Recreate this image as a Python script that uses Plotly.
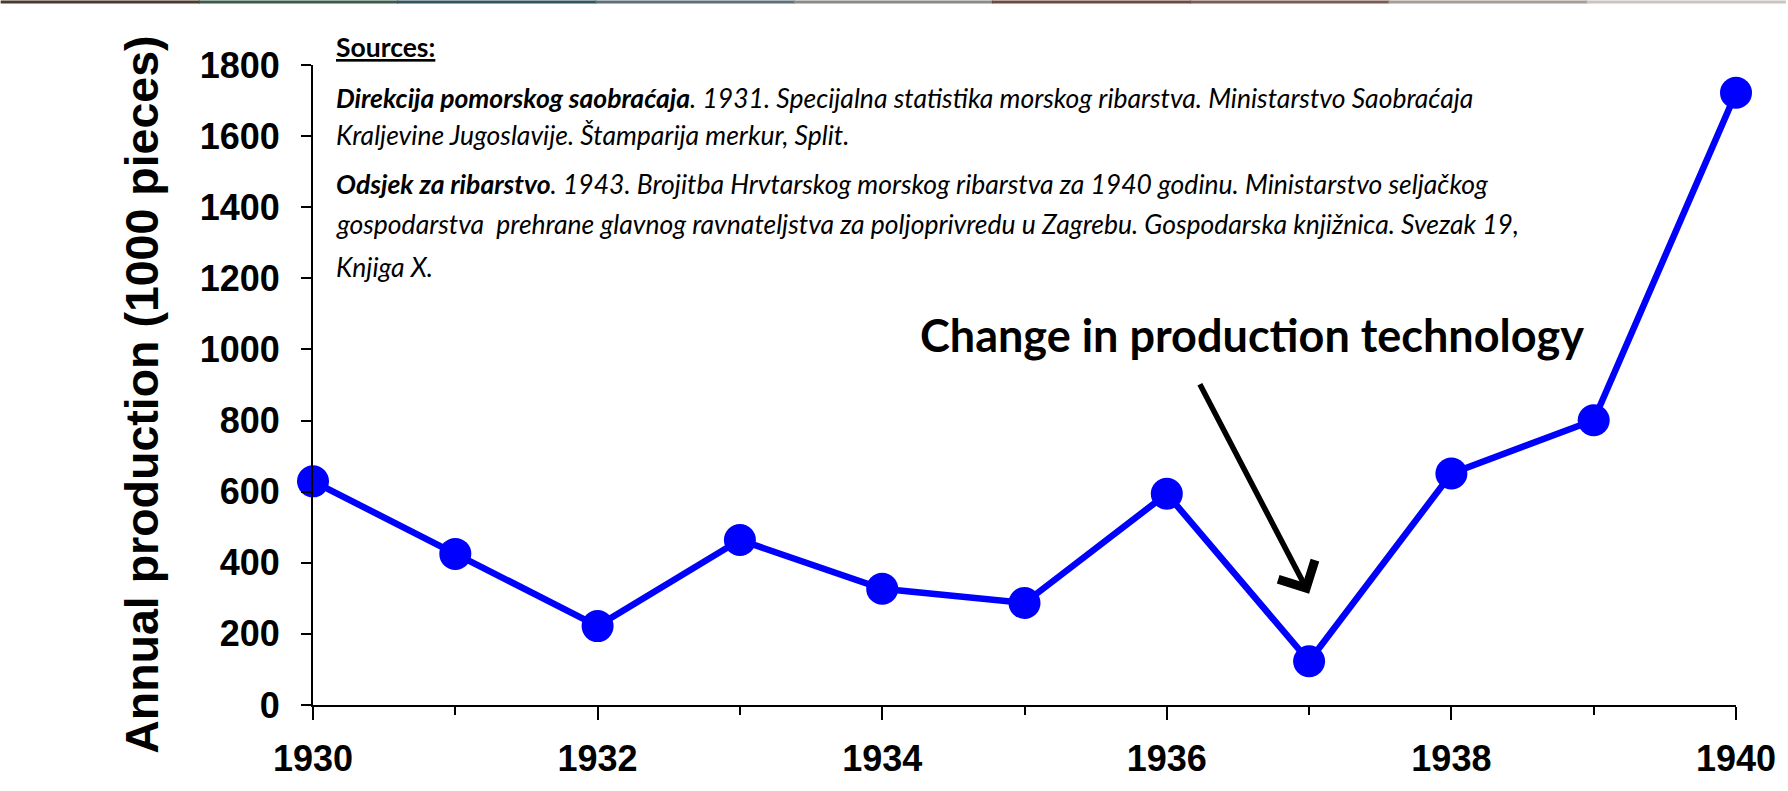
import plotly.graph_objects as go

# ---- data ----
years = [1930, 1931, 1932, 1933, 1934, 1935, 1936, 1937, 1938, 1939, 1940]
production = [629, 425, 222, 464, 327, 287, 594, 123, 651, 801, 1722]
x_tickvals = [1930, 1932, 1934, 1936, 1938, 1940]
x_ticktext = ["1930", "1932", "1934", "1936", "1938", "1940"]
y_tickvals = [0, 200, 400, 600, 800, 1000, 1200, 1400, 1600, 1800]
y_title = "Annual production (1000 pieces)"
annotation_text = "Change in production technology"
sources_lines = [
    "<b><u>Sources:</u></b>",
    "<b><i>Direkcija pomorskog saobraćaja</i></b><i>. 1931. Specijalna statistika morskog ribarstva. Ministarstvo Saobraćaja</i>",
    "<i>Kraljevine Jugoslavije. Štamparija merkur, Split.</i>",
    "<b><i>Odsjek za ribarstvo</i></b><i>. 1943. Brojitba Hrvtarskog morskog ribarstva za 1940 godinu. Ministarstvo seljačkog</i>",
    "<i>gospodarstva  prehrane glavnog ravnateljstva za poljoprivredu u Zagrebu. Gospodarska knjižnica. Svezak 19,</i>",
    "<i>Knjiga X.</i>",
]

W, H = 1788, 791
L, R, T, B = 313, 1739, 65, 710  # plot area in pixels


def px_x(px):
    return (px - L) / (R - L)


def px_y(py):
    return (B - py) / (B - T)


fig = go.Figure()
fig.add_trace(go.Scatter(
    x=years, y=production, mode="lines+markers",
    line=dict(color="#0000FF", width=6.5),
    marker=dict(color="#0000FF", size=32),
    cliponaxis=False, showlegend=False,
))

axis_font = dict(family="Liberation Sans, Arial, sans-serif", size=36, color="black", weight="bold")

fig.update_layout(
    width=W, height=H, autosize=False,
    margin=dict(l=L, r=W - R, t=T, b=H - B, pad=0),
    plot_bgcolor="white", paper_bgcolor="white",
    xaxis=dict(
        range=[1930, 1940], tickvals=x_tickvals, ticktext=x_ticktext,
        ticks="outside", ticklen=13, tickwidth=2, tickcolor="black",
        showline=True, linecolor="black", linewidth=2,
        showgrid=False, zeroline=False,
        tickfont=axis_font, ticklabelstandoff=8,
        minor=dict(dtick=1, tick0=1930, ticks="outside", ticklen=8, tickwidth=2,
                   tickcolor="black", showgrid=False),
    ),
    yaxis=dict(
        range=[0, 1800], tickvals=y_tickvals,
        ticks="outside", ticklen=10, tickwidth=2, tickcolor="black",
        showline=True, linecolor="black", linewidth=2,
        showgrid=False, zeroline=False,
        tickfont=axis_font, ticklabelstandoff=14,
    ),
)

# y-axis title as rotated text
fig.add_annotation(
    text="<b>" + y_title + "</b>", textangle=-90,
    xref="paper", yref="paper", x=px_x(142), y=px_y(397),
    xanchor="center", yanchor="middle", showarrow=False,
    font=dict(family="Liberation Sans, Arial, sans-serif", size=46.5, color="black"),
)

# sources block
src_y = [47, 98, 136, 185, 225, 269]
for txt, yy in zip(sources_lines, src_y):
    fig.add_annotation(
        text=txt, xref="paper", yref="paper", x=px_x(334), y=px_y(yy),
        xanchor="left", yanchor="middle", showarrow=False, align="left",
        font=dict(family="Lato, Open Sans, sans-serif", size=26.5, color="black"),
    )

# annotation text
fig.add_annotation(
    text="<b>" + annotation_text + "</b>", xref="paper", yref="paper",
    x=px_x(1254), y=px_y(337), xanchor="center", yanchor="middle", showarrow=False,
    font=dict(family="Lato, Open Sans, sans-serif", size=45, color="black"),
)

# arrow pointing to 1937
fig.add_annotation(
    x=1937, y=313, xref="x", yref="y", text="", showarrow=True,
    ax=-110, ay=-211, axref="pixel", ayref="pixel",
    arrowhead=4, arrowsize=1.45, arrowwidth=5.5, arrowcolor="black", standoff=0,
)

# thin photo strip at very top
strip_cols = ["#4a3a2a", "#3c5a4a", "#2f5560", "#5d6f78", "#8a8a86", "#6e4a3e", "#7a5b50", "#a59c96", "#c9c4c0"]
n = len(strip_cols)
for i, c in enumerate(strip_cols):
    fig.add_shape(type="rect", xref="paper", yref="paper",
                  x0=px_x(i * W / n), x1=px_x((i + 1) * W / n + 1),
                  y0=px_y(3), y1=px_y(0), fillcolor=c, line=dict(width=0), layer="above")

fig.write_html("out.html", config={"displayModeBar": False},
               post_script="document.body.style.margin='0';")
